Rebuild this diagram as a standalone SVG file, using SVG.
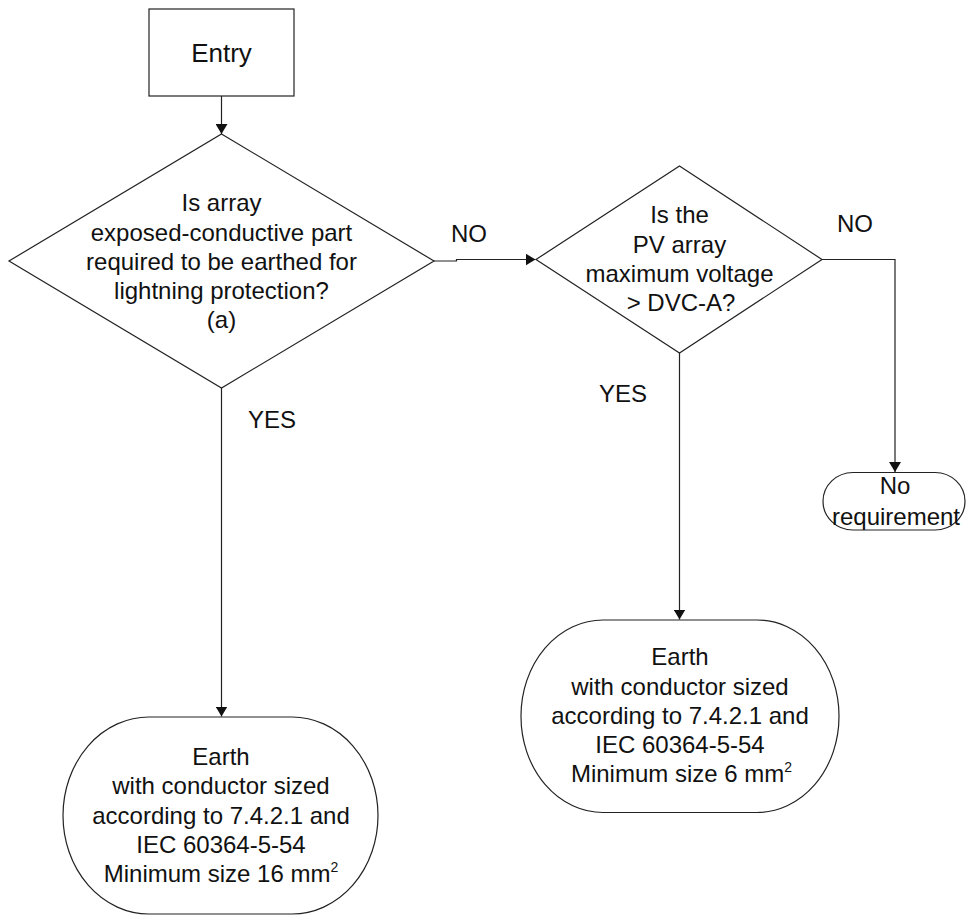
<svg xmlns="http://www.w3.org/2000/svg" width="966" height="918" viewBox="0 0 966 918">
<defs>
<marker id="arr" markerWidth="10" markerHeight="12" refX="10" refY="5" orient="auto" markerUnits="userSpaceOnUse" viewBox="0 0 10 10" preserveAspectRatio="none">
<path d="M0,0 L10,5 L0,10 Z" fill="#111"/>
</marker>
<style>
.shape{fill:#fff;stroke:#222;stroke-width:1.2}
.edge{fill:none;stroke:#222;stroke-width:1.2}
text{font-family:"Liberation Sans",Arial,sans-serif;font-size:24px;fill:#111;text-anchor:middle}
.lbl{text-anchor:start}
</style>
</defs>
<rect width="966" height="918" fill="#fff"/>
<g id="connectors">
<path class="edge" d="M221.5,96 V134" marker-end="url(#arr)"/>
<path class="edge" d="M434,261 H456.5 V259.5 H535.5" marker-end="url(#arr)"/>
<path class="edge" d="M822,259.5 H895 V472" marker-end="url(#arr)"/>
<path class="edge" d="M679.5,353 V619.5" marker-end="url(#arr)"/>
<path class="edge" d="M221.5,388 V716.5" marker-end="url(#arr)"/>
<text class="lbl" x="451" y="242">NO</text>
<text class="lbl" x="837" y="232">NO</text>
<text class="lbl" x="248" y="428">YES</text>
<text class="lbl" x="599" y="402">YES</text>
</g>
<g id="entry">
<rect class="shape" x="149" y="9" width="145" height="87"/>
<text x="221.5" y="62" style="font-size:26px">Entry</text>
</g>
<g id="decision1">
<polygon class="shape" points="221.5,134 434,261 221.5,388 9,261"/>
<text x="221.5" y="211">Is array</text>
<text x="221.5" y="240.5">exposed-conductive part</text>
<text x="221.5" y="270">required to be earthed for</text>
<text x="221.5" y="299">lightning protection?</text>
<text x="221.5" y="328">(a)</text>
</g>
<g id="decision2">
<polygon class="shape" points="679.5,166 822,259.5 679.5,353 536,259.5"/>
<text x="679.5" y="223">Is the</text>
<text x="679.5" y="252.5">PV array</text>
<text x="679.5" y="282">maximum voltage</text>
<text x="681" y="311">&gt; DVC-A?</text>
</g>
<g id="no-requirement">
<rect class="shape" x="823" y="472.5" width="142" height="57.5" rx="30" ry="28.75"/>
<text x="895" y="493.5">No</text>
<text x="896" y="525">requirement</text>
</g>
<g id="earth16">
<rect class="shape" x="63" y="717" width="315" height="197" rx="86" ry="98.5"/>
<text x="221" y="765">Earth</text>
<text x="221" y="794">with conductor sized</text>
<text x="221" y="823.5">according to 7.4.2.1 and</text>
<text x="221" y="852.5">IEC 60364-5-54</text>
<text x="221" y="881.5">Minimum size 16 mm<tspan dy="-10" style="font-size:14px">2</tspan></text>
</g>
<g id="earth6">
<rect class="shape" x="521" y="620" width="318" height="192.5" rx="82" ry="96"/>
<text x="680" y="665">Earth</text>
<text x="680" y="694.5">with conductor sized</text>
<text x="680" y="723.5">according to 7.4.2.1 and</text>
<text x="680" y="752.5">IEC 60364-5-54</text>
<text x="681.5" y="782">Minimum size 6 mm<tspan dy="-10" style="font-size:14px">2</tspan></text>
</g>
</svg>
